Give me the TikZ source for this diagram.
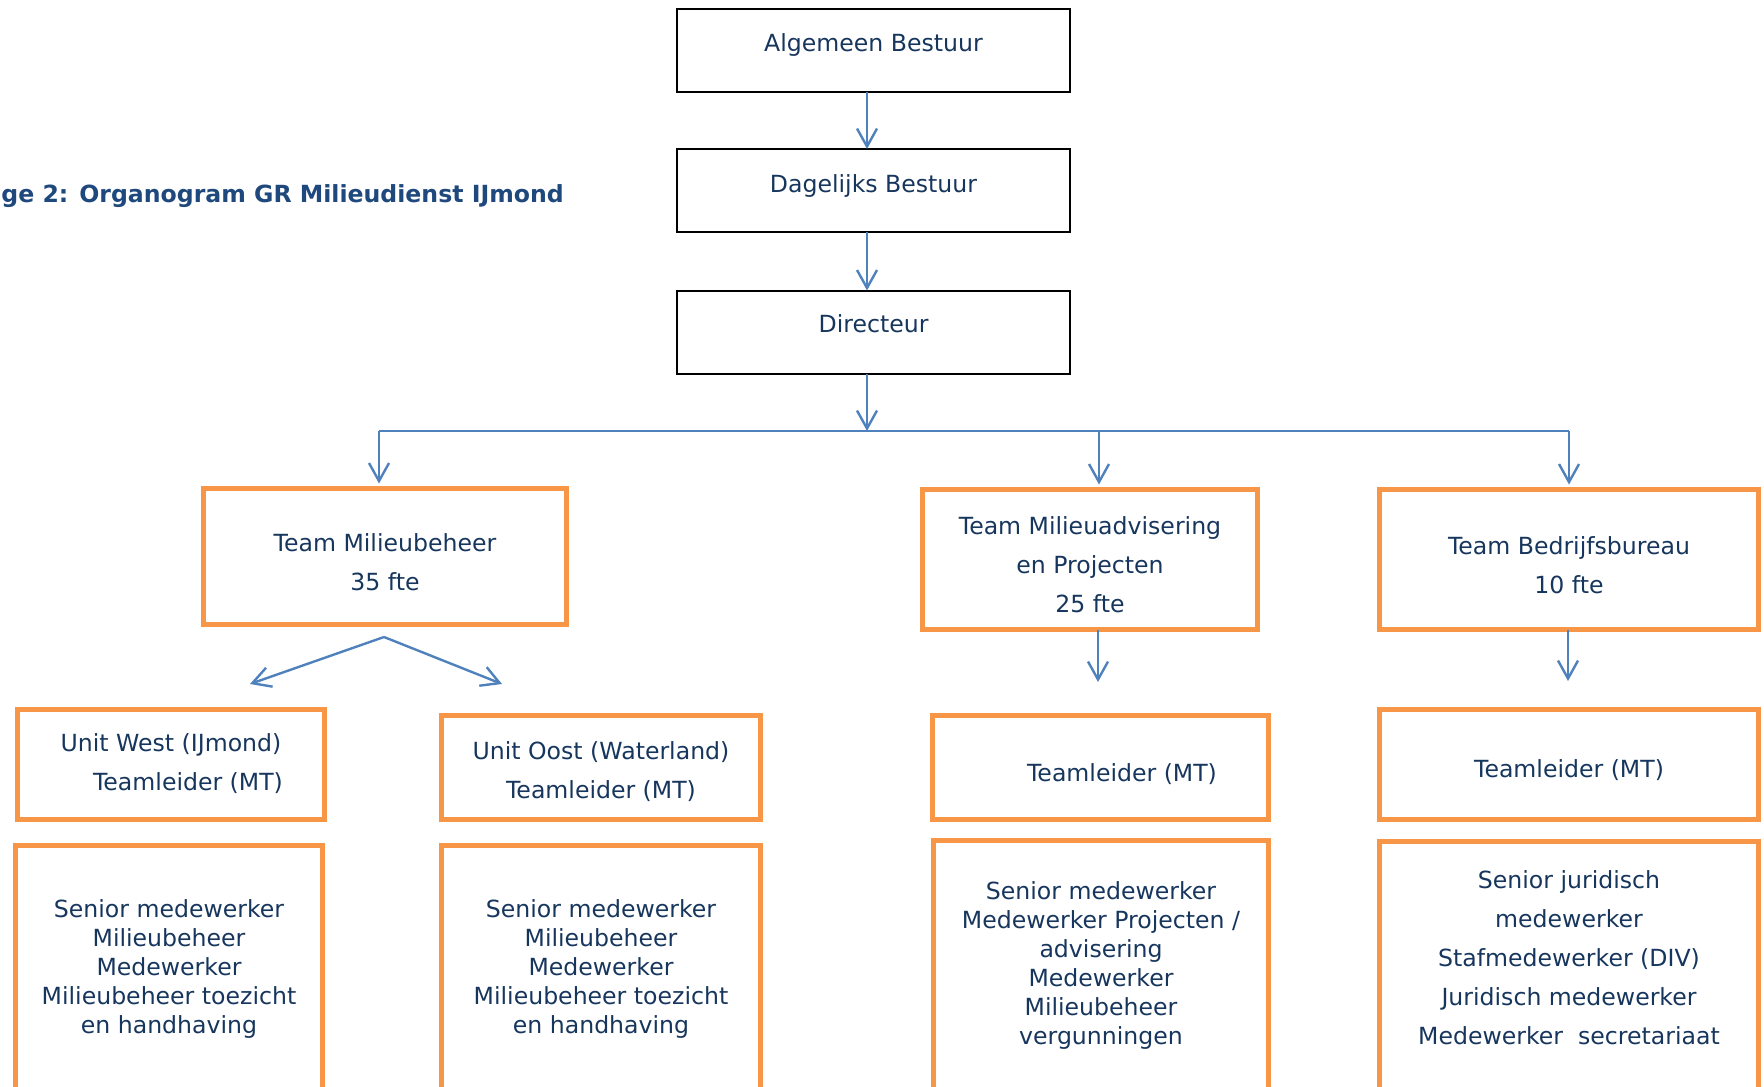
\documentclass[tikz,border=0pt]{standalone}
\usepackage{fontspec}
\setmainfont{DejaVu Sans}
\usetikzlibrary{arrows.meta}
\definecolor{txt}{HTML}{17365D}
\definecolor{ttl}{HTML}{1F497D}
\definecolor{arr}{HTML}{4F81BD}
\definecolor{org}{HTML}{F79646}
\begin{document}
\begin{tikzpicture}[x=0.5pt,y=-0.5pt,
  blackbox/.style={draw=black, line width=1pt, inner sep=0pt, outer sep=0pt},
  orangebox/.style={draw=org, line width=2.6pt, inner sep=0pt, outer sep=0pt},
  lbl/.style={text=txt, align=center, inner sep=0pt, font=\fontsize{11.8}{19.5}\selectfont},
  lbltight/.style={text=txt, align=center, inner sep=0pt, font=\fontsize{11.8}{14.5}\selectfont},
  conn/.style={draw=arr, line width=1.2pt, -{Straight Barb[length=9pt,width=10pt,line width=1.2pt]}},
  plainconn/.style={draw=arr, line width=1.2pt}
]
\useasboundingbox (0,0) rectangle (1764,1086);
\clip (0,0) rectangle (1764,1086);

% title
\node[anchor=base west, text=ttl, inner sep=0pt, font=\bfseries\fontsize{11.8}{14}\selectfont] (title) at (1,202) {ge 2: Organogram GR Milieudienst IJmond};

% top boxes
\node[blackbox, minimum width=196.5pt, minimum height=41.5pt] (B1) at (873.5,50.5) {};
\node[blackbox, minimum width=196.5pt, minimum height=41.5pt] (B2) at (873.5,190.5) {};
\node[blackbox, minimum width=196.5pt, minimum height=41.5pt] (B3) at (873.5,332) {};
\node[lbl, anchor=base] (t1) at (873.5,52) {Algemeen Bestuur};
\node[lbl, anchor=base] (t2) at (873.5,192) {Dagelijks Bestuur};
\node[lbl, anchor=base] (t3) at (873.5,332) {Directeur};

% team boxes
\node[orangebox, minimum width=181.5pt, minimum height=68pt] (Tm) at (385,556.5) {};
\node[orangebox, minimum width=167.5pt, minimum height=70pt] (TA) at (1090,559.5) {};
\node[orangebox, minimum width=189.5pt, minimum height=70pt] (TB) at (1569,559.5) {};
\node[lbl] (tTm) at (385,562) {Team Milieubeheer\\35 fte};
\node[lbl] (tTA) at (1090,565) {Team Milieuadvisering\\en Projecten\\25 fte};
\node[lbl] (tTB) at (1569,565) {Team Bedrijfsbureau\\10 fte};

% teamleider boxes
\node[orangebox, minimum width=153.5pt, minimum height=55pt] (UW) at (171,764.5) {};
\node[orangebox, minimum width=159.5pt, minimum height=52pt] (UO) at (601,767.5) {};
\node[orangebox, minimum width=168pt, minimum height=52pt] (TLM) at (1100.5,767.5) {};
\node[orangebox, minimum width=189.5pt, minimum height=55pt] (TLB) at (1569,764.5) {};
\node[lbl] (tUW) at (171,764) {Unit West (IJmond)\\\hspace*{17pt}Teamleider (MT)};
\node[lbl] (tUO) at (601,772) {Unit Oost (Waterland)\\Teamleider (MT)};
\node[lbl] (tTLM) at (1122,774) {Teamleider (MT)};
\node[lbl] (tTLB) at (1569,770) {Teamleider (MT)};

% staff boxes
\node[orangebox, minimum width=153.5pt, minimum height=131pt] (SL) at (169,976.5) {};
\node[orangebox, minimum width=159.5pt, minimum height=131pt] (SL2) at (601,976.5) {};
\node[orangebox, minimum width=167.5pt, minimum height=133.5pt] (SM) at (1101,974) {};
\node[orangebox, minimum width=189.5pt, minimum height=133pt] (SB) at (1569,974.5) {};
\node[lbltight] (tSL) at (169,969) {Senior medewerker\\Milieubeheer\\Medewerker\\Milieubeheer toezicht\\en handhaving};
\node[lbltight] (tSL2) at (601,969) {Senior medewerker\\Milieubeheer\\Medewerker\\Milieubeheer toezicht\\en handhaving};
\node[lbltight] (tSM) at (1101,965) {Senior medewerker\\Medewerker Projecten /\\advisering\\Medewerker\\Milieubeheer\\vergunningen};
\node[lbl] (tSB) at (1569,958) {Senior juridisch\\medewerker\\Stafmedewerker (DIV)\\Juridisch medewerker\\Medewerker\ \ secretariaat};

% connectors
\coordinate (J) at (867,431);
\coordinate (HL) at (379,431);
\coordinate (HM) at (1099,431);
\coordinate (HR) at (1569,431);
\draw[conn] ([xshift=-3.25pt]B1.south) -- ([xshift=-3.25pt]B2.north);
\draw[conn] ([xshift=-3.25pt]B2.south) -- ([xshift=-3.25pt]B3.north);
\draw[conn] ([xshift=-3.25pt]B3.south) -- (J);
\draw[plainconn] (HL) -- (HR);
\draw[conn, shorten >=2.5pt] (HL) -- (HL |- Tm.north);
\draw[conn, shorten >=2.5pt] (HM) -- (HM |- TA.north);
\draw[conn, shorten >=2.5pt] (HR) -- (HR |- TB.north);

\coordinate (S) at (384,637);
\coordinate (SW) at (250,684);
\coordinate (SE) at (502,684);
\draw[conn] (S) -- (SW);
\draw[conn] (S) -- (SE);

\coordinate (TAa) at (1098,682);
\coordinate (TBa) at (1568,681);
\draw[conn] (TA.south -| TAa) -- (TAa);
\draw[conn] (TB.south -| TBa) -- (TBa);
\end{tikzpicture}
\end{document}
